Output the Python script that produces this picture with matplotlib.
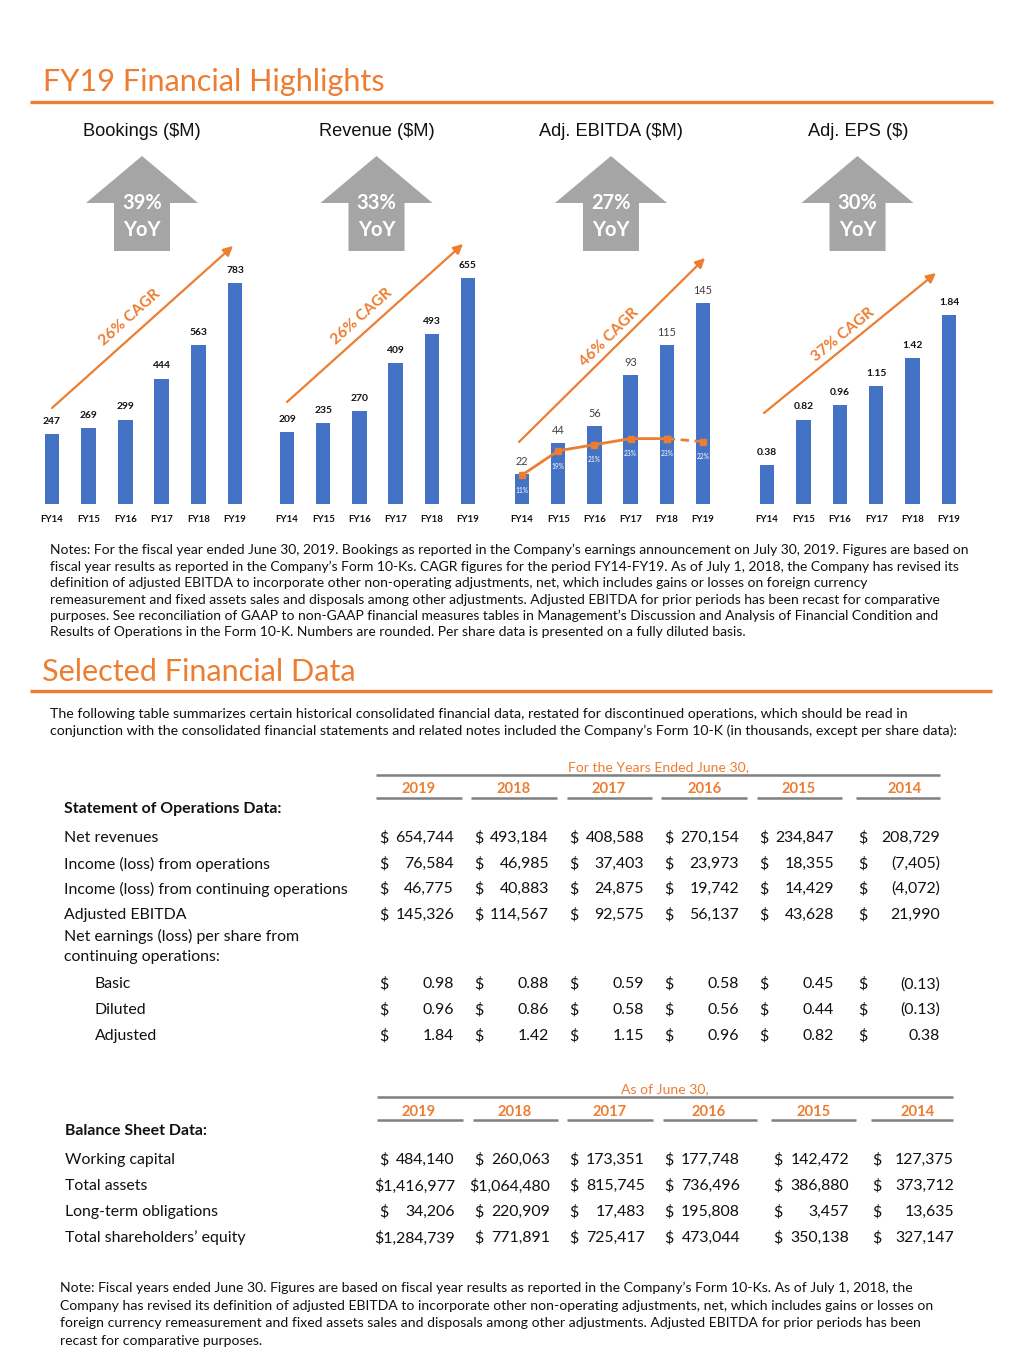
import math
import matplotlib
matplotlib.use('Agg')
import matplotlib.pyplot as plt
from matplotlib.patches import Polygon
from matplotlib import font_manager

# ---------------- data ----------------
years = ['FY14', 'FY15', 'FY16', 'FY17', 'FY18', 'FY19']
bookings = [247, 269, 299, 444, 563, 783]
revenue = [209, 235, 270, 409, 493, 655]
adj_ebitda = [22, 44, 56, 93, 115, 145]
ebitda_margin = [11, 19, 21, 23, 23, 22]
adj_eps = [0.38, 0.82, 0.96, 1.15, 1.42, 1.84]
chart_titles = ['Bookings ($M)', 'Revenue ($M)', 'Adj. EBITDA ($M)', 'Adj. EPS ($)']
yoy_growth = ['39%', '33%', '27%', '30%']
cagr_labels = ['26% CAGR', '26% CAGR', '46% CAGR', '37% CAGR']
value_fmt = ['{:.0f}', '{:.0f}', '{:.0f}', '{:.2f}']

table_years = ['2019', '2018', '2017', '2016', '2015', '2014']
ops_header = 'For the Years Ended June 30,'
ops_section = 'Statement of Operations Data:'
net_revenues = ['654,744', '493,184', '408,588', '270,154', '234,847', '208,729']
income_ops = ['76,584', '46,985', '37,403', '23,973', '18,355', '(7,405)']
income_cont = ['46,775', '40,883', '24,875', '19,742', '14,429', '(4,072)']
adj_ebitda_k = ['145,326', '114,567', '92,575', '56,137', '43,628', '21,990']
eps_basic = ['0.98', '0.88', '0.59', '0.58', '0.45', '(0.13)']
eps_diluted = ['0.96', '0.86', '0.58', '0.56', '0.44', '(0.13)']
eps_adjusted = ['1.84', '1.42', '1.15', '0.96', '0.82', '0.38']

bs_header = 'As of June 30,'
bs_section = 'Balance Sheet Data:'
working_capital = ['484,140', '260,063', '173,351', '177,748', '142,472', '127,375']
total_assets = ['1,416,977', '1,064,480', '815,745', '736,496', '386,880', '373,712']
lt_obligations = ['34,206', '220,909', '17,483', '195,808', '3,457', '13,635']
shareholders_equity = ['1,284,739', '771,891', '725,417', '473,044', '350,138', '327,147']

notes_lines = [
    "Notes: For the fiscal year ended June 30, 2019. Bookings as reported in the Company\u2019s earnings announcement on July 30, 2019. Figures are based on",
    "fiscal year results as reported in the Company\u2019s Form 10-Ks. CAGR figures for the period FY14-FY19. As of July 1, 2018, the Company has revised its",
    "definition of adjusted EBITDA to incorporate other non-operating adjustments, net, which includes gains or losses on foreign currency",
    "remeasurement and fixed assets sales and disposals among other adjustments. Adjusted EBITDA for prior periods has been recast for comparative",
    "purposes. See reconciliation of GAAP to non-GAAP financial measures tables in Management\u2019s Discussion and Analysis of Financial Condition and",
    "Results of Operations in the Form 10-K. Numbers are rounded. Per share data is presented on a fully diluted basis.",
]
intro_lines = [
    "The following table summarizes certain historical consolidated financial data, restated for discontinued operations, which should be read in",
    "conjunction with the consolidated financial statements and related notes included the Company\u2019s Form 10-K (in thousands, except per share data):",
]
bottom_note_lines = [
    "Note: Fiscal years ended June 30. Figures are based on fiscal year results as reported in the Company\u2019s Form 10-Ks. As of July 1, 2018, the",
    "Company has revised its definition of adjusted EBITDA to incorporate other non-operating adjustments, net, which includes gains or losses on",
    "foreign currency remeasurement and fixed assets sales and disposals among other adjustments. Adjusted EBITDA for prior periods has been",
    "recast for comparative purposes.",
]

# ---------------- setup ----------------
W, H = 1024, 1365
fig = plt.figure(figsize=(W / 100, H / 100), dpi=100)
fig.patch.set_facecolor('white')
R = fig.canvas.get_renderer()

avail = {f.name for f in font_manager.fontManager.ttflist}
BODY = 'Lato' if 'Lato' in avail else 'DejaVu Sans'
ARIAL = 'Liberation Sans' if 'Liberation Sans' in avail else 'DejaVu Sans'

ORANGE = '#ED7D31'
BLUE = '#4472C4'
GREY = '#A5A5A5'
LINEGREY = '#7F7F7F'
TXT = '#111111'


def fit(s, width, family=BODY, weight='normal', base=10.0):
    t = fig.text(0, 0, s, fontsize=base, family=family, weight=weight)
    w = t.get_window_extent(renderer=R).width
    t.remove()
    return base * width / w


def text_w(s, size, family=BODY, weight='normal'):
    t = fig.text(0, 0, s, fontsize=size, family=family, weight=weight)
    w = t.get_window_extent(renderer=R).width
    t.remove()
    return w


def px_axes(l, t, r, b, z=1):
    return fig.add_axes([l / W, 1 - b / H, (r - l) / W, (b - t) / H], zorder=z)


# ---------------- charts ----------------
series = [bookings, revenue, adj_ebitda, adj_eps]
first_c = [52, 287, 522, 767]
last_c = [235, 468, 703, 949]
top_last = [283, 278, 303, 315]
ax_top, base_y = 240, 504
lbl_weight = ['bold', 'bold', 'normal', 'bold']
lbl_color = ['#111111', '#111111', '#404040', '#111111']
lbl_size = [7.4, 7.4, 7.8, 7.4]
lbl_pad = [6, 6, 5, 6]

tick_size = fit('FY14', 23, weight='bold')
for i, vals in enumerate(series):
    sp = (last_c[i] - first_c[i]) / 5
    ax = px_axes(first_c[i] - sp / 2, ax_top, last_c[i] + sp / 2, base_y)
    bars = ax.bar(range(len(vals)), vals, width=0.4, color=BLUE)
    ax.set_xlim(-0.5, 5.5)
    ax.set_ylim(0, vals[-1] * (base_y - ax_top) / (base_y - top_last[i]))
    ax.bar_label(bars, labels=[value_fmt[i].format(v) for v in vals], padding=lbl_pad[i],
                 fontsize=lbl_size[i], fontweight=lbl_weight[i], color=lbl_color[i], family=BODY)
    ax.set_xticks(range(len(years)))
    ax.set_xticklabels(years, fontsize=tick_size, fontweight='bold', family=BODY, color=TXT)
    ax.tick_params(axis='x', length=0, pad=8)
    ax.set_yticks([])
    for s in ax.spines.values():
        s.set_visible(False)
    ax.patch.set_visible(False)
    if i == 2:
        axt = ax.twinx()
        axt.set_ylim(1.5, 88.3)
        xs = list(range(len(ebitda_margin)))
        axt.plot(xs[:5], ebitda_margin[:5], color=ORANGE, lw=2, marker='s', ms=4.5)
        axt.plot(xs[4:], ebitda_margin[4:], color=ORANGE, lw=2, ls=(0, (3, 2)), marker='s', ms=4.5)
        for x, m in zip(xs, ebitda_margin):
            axt.annotate(f'{m}%', (x, m), xytext=(0, -11), textcoords='offset points',
                         ha='center', va='center', fontsize=4.8, color='white', family=BODY)
        axt.set_yticks([])
        for s in axt.spines.values():
            s.set_visible(False)

# ---------------- overlay ----------------
ax0 = px_axes(0, 0, W, H, z=10)
ax0.set_xlim(0, W)
ax0.set_ylim(H, 0)
ax0.axis('off')
ax0.patch.set_visible(False)

title_size = fit('FY19 Financial Highlights', 340)
ax0.text(43, 82, 'FY19 Financial Highlights', fontsize=title_size, color=ORANGE,
         family=BODY, ha='left', va='center')
ax0.plot([30, 993], [102, 102], color=ORANGE, lw=2.4, solid_capstyle='butt')

sub_size = fit('Bookings ($M)', 118, family=ARIAL)
sub_c = [142, 376.5, 611, 858]
for c, t in zip(sub_c, chart_titles):
    ax0.text(c, 132, t, fontsize=sub_size, family=ARIAL, ha='center', va='center', color='#111111')

# grey YoY arrows
arr_c = [142, 376.5, 611, 857.5]
for c, g in zip(arr_c, yoy_growth):
    pts = [(c - 56, 203), (c, 156), (c + 56, 203), (c + 28, 203), (c + 28, 251),
           (c - 28, 251), (c - 28, 203)]
    ax0.add_patch(Polygon(pts, closed=True, facecolor=GREY, edgecolor='none'))
    ax0.text(c, 203, g, fontsize=14.5, fontweight='bold', color='white', family=BODY,
             ha='center', va='center')
    ax0.text(c, 230, 'YoY', fontsize=14.5, fontweight='bold', color='white', family=BODY,
             ha='center', va='center')

# CAGR arrows
cagr_start = [(52, 408), (287, 402), (519, 442), (764, 413)]
cagr_end = [(233, 246), (463, 244), (705, 258), (936, 273)]
cagr_txt = [(130, 318), (362, 317), (609, 337), (843, 335)]
cagr_size = fit('26% CAGR', 76, weight='bold')
for s0, s1, tp, lab in zip(cagr_start, cagr_end, cagr_txt, cagr_labels):
    ax0.annotate('', xy=s1, xytext=s0,
                 arrowprops=dict(arrowstyle='-|>', color=ORANGE, lw=1.6, mutation_scale=14,
                                 shrinkA=0, shrinkB=0))
    ang = math.degrees(math.atan2(s0[1] - s1[1], s1[0] - s0[0]))
    ax0.text(tp[0], tp[1], lab, rotation=ang, rotation_mode='anchor', ha='center', va='center',
             fontsize=cagr_size, fontweight='bold', color=ORANGE, family=BODY)

# notes paragraph
notes_size = fit(notes_lines[0], 922)
for y, line in zip([550, 566.5, 583, 599.5, 616, 632.5], notes_lines):
    ax0.text(50, y, line, fontsize=notes_size, family=BODY, color=TXT, ha='left', va='center')

# Selected Financial Data
ax0.text(42, 672, 'Selected Financial Data', fontsize=title_size, color=ORANGE, family=BODY,
         ha='left', va='center')
ax0.plot([30, 992], [691, 691], color=ORANGE, lw=2.4, solid_capstyle='butt')

intro_size = fit(intro_lines[1], 907)
for y, line in zip([714, 731], intro_lines):
    ax0.text(50, y, line, fontsize=intro_size, family=BODY, color=TXT, ha='left', va='center')

# ---------------- tables ----------------
tbl_size = fit('Income (loss) from continuing operations', 284)
hdr_size = fit(ops_header, 180)
dollar_w = text_w('$', tbl_size)


def draw_table(header, hdr_y, top_line, top_y, year_c, yr_y, segs, ul_y, sect, sect_x, sect_y,
               rows, x_dollar, x_right):
    ax0.text((top_line[0] + top_line[1]) / 2 + 0, hdr_y, header, fontsize=hdr_size, color=ORANGE,
             family=BODY, ha='center', va='center')
    ax0.plot(top_line, [top_y, top_y], color=LINEGREY, lw=1.8, solid_capstyle='butt')
    for c, yr, sg in zip(year_c, table_years, segs):
        ax0.text(c, yr_y, yr, fontsize=tbl_size * 0.93, color=ORANGE, family=BODY,
                 fontweight='bold', ha='center', va='center')
        ax0.plot(sg, [ul_y, ul_y], color=LINEGREY, lw=1.8, solid_capstyle='butt')
    ax0.text(sect_x, sect_y, sect, fontsize=tbl_size, fontweight='bold', family=BODY,
             color=TXT, ha='left', va='center')
    for label, lx, y, vals in rows:
        ax0.text(lx, y, label, fontsize=tbl_size, family=BODY, color=TXT, ha='left', va='center')
        if vals is None:
            continue
        for xd, xr, v in zip(x_dollar, x_right, vals):
            vw = text_w(v, tbl_size)
            if xr - vw < xd + dollar_w + 1:
                ax0.text(xr, y, '$' + v, fontsize=tbl_size, family=BODY, color=TXT,
                         ha='right', va='center')
            else:
                ax0.text(xd, y, '$', fontsize=tbl_size, family=BODY, color=TXT, ha='left', va='center')
                ax0.text(xr, y, v, fontsize=tbl_size, family=BODY, color=TXT, ha='right', va='center')


ops_rows = [
    ('Net revenues', 64, 838, net_revenues),
    ('Income (loss) from operations', 64, 864, income_ops),
    ('Income (loss) from continuing operations', 64, 889, income_cont),
    ('Adjusted EBITDA', 64, 915, adj_ebitda_k),
    ('Net earnings (loss) per share from', 64, 936.5, None),
    ('continuing operations:', 64, 957, None),
    ('Basic', 95, 984.5, eps_basic),
    ('Diluted', 95, 1010, eps_diluted),
    ('Adjusted', 95, 1036, eps_adjusted),
]
draw_table(ops_header, 767, [376, 940], 774.5,
           [419, 514, 609, 704.5, 799, 905], 789,
           [(376, 462), (471, 557), (567, 652), (661, 747), (757, 842), (856, 940)], 797.5,
           ops_section, 64, 809, ops_rows,
           [379, 474, 569, 664, 759, 858], [454, 549, 644, 739, 834, 940])

bs_rows = [
    ('Working capital', 65, 1160, working_capital),
    ('Total assets', 65, 1186, total_assets),
    ('Long-term obligations', 65, 1212, lt_obligations),
    ('Total shareholders\u2019 equity', 65, 1238, shareholders_equity),
]
draw_table(bs_header, 1089, [377, 953], 1097,
           [419, 515, 610, 709, 814, 918], 1111.5,
           [(377, 463), (473, 558), (567, 653), (663, 757), (771, 856), (871, 953)], 1119.5,
           bs_section, 65, 1131, bs_rows,
           [379, 474, 569, 664, 773, 872], [455, 550, 645, 740, 849, 954])

note_size = fit(bottom_note_lines[1], 871)
for y, line in zip([1288, 1305.5, 1323, 1341], bottom_note_lines):
    ax0.text(60, y, line, fontsize=note_size, family=BODY, color=TXT, ha='left', va='center')

fig.savefig('out.png', dpi=100, facecolor='white')
